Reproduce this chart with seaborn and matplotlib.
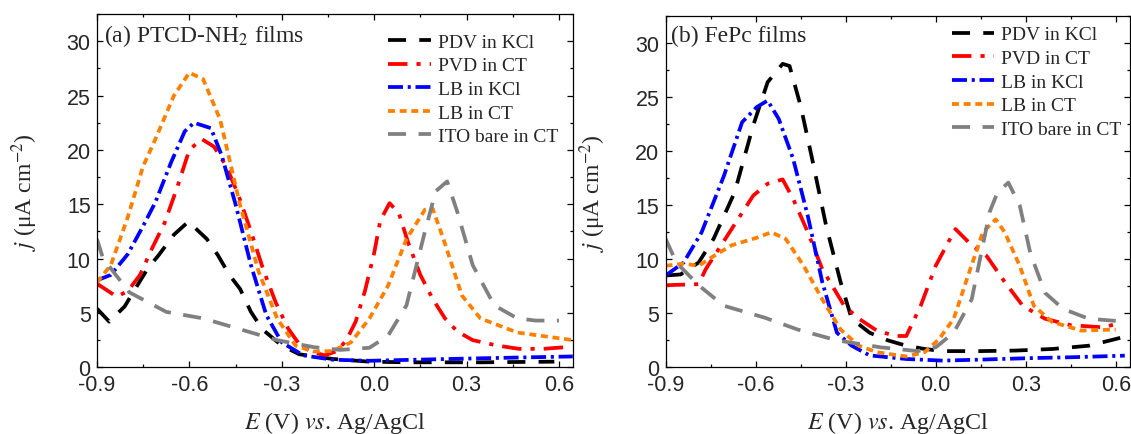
import matplotlib
matplotlib.use('Agg')
import matplotlib.pyplot as plt
import seaborn as sns
from matplotlib.ticker import MultipleLocator

sns.set_style('ticks')
plt.rcParams['font.family'] = ['Liberation Serif', 'DejaVu Serif']
plt.rcParams['mathtext.fontset'] = 'stix'
plt.rcParams['axes.unicode_minus'] = False
plt.rcParams['lines.scale_dashes'] = False

labels = ['PDV in KCl', 'PVD in CT', 'LB in KCl', 'LB in CT', 'ITO bare in CT']
colors = ['black', '#FF0000', '#0000FF', '#FF8000', '#808080']
dashes = [(13, 9.5), (14, 6.5, 3, 6.5), (10.8, 3.4, 2.2, 3.4), (5, 3.4), (13, 9)]

# ---- (a) PTCD-NH2 films ----
a_pdv_kcl_x = [-0.9, -0.86, -0.81, -0.776, -0.735, -0.70, -0.65, -0.603, -0.543, -0.507, -0.47,
               -0.435, -0.40, -0.363, -0.30, -0.243, -0.135, -0.015, 0.105, 0.345, 0.585]
a_pdv_kcl_y = [5.4, 4.2, 5.6, 7.2, 9.1, 10.3, 12.2, 13.4, 11.8, 10.3, 8.5,
               7.2, 5.1, 3.5, 2.0, 1.2, 0.77, 0.52, 0.46, 0.46, 0.52]

a_pvd_ct_x = [-0.9, -0.836, -0.80, -0.76, -0.72, -0.68, -0.64, -0.60, -0.56, -0.52, -0.48, -0.44,
              -0.40, -0.36, -0.32, -0.28, -0.24, -0.20, -0.16, -0.12, -0.09, -0.06, -0.03, 0.0,
              0.02, 0.05, 0.08, 0.11, 0.15, 0.19, 0.23, 0.27, 0.32, 0.40, 0.47, 0.55, 0.62]
a_pvd_ct_y = [7.7, 6.5, 7.0, 8.5, 11.0, 13.3, 16.5, 20.0, 21.0, 20.3, 18.5, 15.8,
              12.5, 9.0, 6.0, 3.6, 2.0, 1.4, 1.1, 1.5, 2.5, 4.2, 7.0, 10.5,
              13.5, 15.1, 14.2, 11.5, 8.5, 6.3, 4.5, 3.3, 2.5, 2.0, 1.7, 1.7, 1.85]

a_lb_kcl_x = [-0.9, -0.855, -0.80, -0.75, -0.71, -0.66, -0.615, -0.585, -0.53, -0.495, -0.45,
              -0.40, -0.35, -0.30, -0.23, -0.135, -0.015, 0.105, 0.345, 0.645]
a_lb_kcl_y = [8.0, 8.5, 10.4, 13.0, 15.2, 18.8, 21.7, 22.5, 22.0, 19.5, 15.0,
              9.4, 4.8, 2.3, 1.1, 0.7, 0.6, 0.68, 0.83, 1.0]

a_lb_ct_x = [-0.9, -0.855, -0.80, -0.75, -0.71, -0.65, -0.60, -0.555, -0.50, -0.435, -0.375, -0.315,
             -0.255, -0.195, -0.135, -0.075, -0.015, 0.045, 0.105, 0.165, 0.19, 0.225, 0.285,
             0.345, 0.465, 0.645]
a_lb_ct_y = [7.8, 9.4, 13.8, 18.5, 21.0, 25.0, 27.1, 26.5, 22.8, 14.9, 8.8, 4.5,
             2.0, 1.45, 1.5, 2.3, 4.5, 7.5, 11.8, 14.5, 14.6, 11.8, 6.6,
             4.5, 3.2, 2.5]

a_ito_x = [-0.9, -0.88, -0.855, -0.795, -0.675, -0.555, -0.435, -0.315, -0.195, -0.11, -0.015,
           0.045, 0.105, 0.165, 0.20, 0.237, 0.27, 0.32, 0.39, 0.465, 0.525, 0.60]
a_ito_y = [11.8, 10.0, 9.1, 6.9, 5.1, 4.5, 3.5, 2.5, 1.85, 1.6, 1.8,
           2.9, 5.7, 12.5, 16.2, 17.1, 14.3, 9.4, 5.7, 4.5, 4.3, 4.3]

# ---- (b) FePc films ----
b_pdv_kcl_x = [-0.9, -0.85, -0.79, -0.74, -0.67, -0.608, -0.56, -0.51, -0.487, -0.45, -0.414,
               -0.365, -0.317, -0.28, -0.22, -0.16, -0.098, -0.037, 0.023, 0.145, 0.266, 0.39,
               0.51, 0.64]
b_pdv_kcl_y = [8.5, 8.6, 9.7, 11.9, 16.2, 22.4, 26.4, 28.1, 27.9, 24.2, 19.6,
               13.1, 7.9, 4.5, 3.2, 2.5, 2.0, 1.7, 1.5, 1.5, 1.55, 1.7,
               2.0, 2.9]

b_pvd_ct_x = [-0.9, -0.79, -0.766, -0.68, -0.608, -0.56, -0.51, -0.475, -0.426, -0.378, -0.305,
              -0.256, -0.196, -0.134, -0.098, -0.05, 0.0, 0.048, 0.066, 0.12, 0.17, 0.23, 0.29,
              0.364, 0.45, 0.558, 0.6]
b_pvd_ct_y = [7.6, 7.7, 9.1, 12.8, 15.9, 17.0, 17.4, 15.6, 12.5, 9.1, 5.7,
              4.5, 3.4, 2.9, 2.9, 5.7, 9.4, 11.9, 12.8, 11.3, 10.3, 7.9, 5.7,
              4.5, 3.9, 3.7, 4.0]

b_lb_kcl_x = [-0.9, -0.84, -0.78, -0.706, -0.645, -0.596, -0.56, -0.523, -0.475, -0.426, -0.378,
              -0.329, -0.28, -0.22, -0.098, 0.023, 0.145, 0.327, 0.45, 0.63]
b_lb_kcl_y = [8.5, 9.7, 12.5, 17.7, 22.7, 24.1, 24.7, 23.0, 19.3, 14.0, 7.9,
              3.2, 2.0, 1.1, 0.77, 0.62, 0.71, 0.86, 0.93, 1.08]

b_lb_ct_x = [-0.9, -0.84, -0.79, -0.74, -0.68, -0.596, -0.548, -0.5, -0.44, -0.378, -0.317, -0.256,
             -0.196, -0.098, -0.037, 0.011, 0.06, 0.108, 0.157, 0.2, 0.23, 0.28, 0.327, 0.388,
             0.485, 0.6]
b_lb_ct_y = [9.4, 9.6, 9.4, 10.3, 11.3, 12.0, 12.5, 11.9, 9.4, 6.3, 3.5, 2.0,
             1.4, 1.0, 1.4, 2.6, 4.5, 8.5, 12.5, 13.7, 12.5, 9.4, 5.7, 4.2,
             3.4, 3.5]

b_ito_x = [-0.9, -0.864, -0.79, -0.706, -0.57, -0.46, -0.33, -0.183, -0.06, 0.0, 0.06, 0.12,
           0.18, 0.206, 0.242, 0.28, 0.315, 0.364, 0.425, 0.51, 0.6]
b_ito_y = [11.9, 9.7, 7.6, 5.7, 4.6, 3.5, 2.5, 1.85, 1.5, 1.85, 3.2, 6.3,
           14.4, 16.2, 17.1, 15.0, 10.6, 6.9, 5.4, 4.5, 4.3]

x_ticks = [-0.9, -0.6, -0.3, 0.0, 0.3, 0.6]
x_ticklabels = ['-0.9', '-0.6', '-0.3', '0.0', '0.3', '0.6']

panels = [
    {'title': '(a) PTCD-NH$_2$ films', 'rect': [0.0857, 0.1533, 0.4213, 0.8122],
     'title_xy': (0.014, 0.924), 'leg_xy': (0.611, 0.946), 'ylab_x': -0.119, 'xlab_y': -0.173,
     'series': [(a_pdv_kcl_x, a_pdv_kcl_y), (a_pvd_ct_x, a_pvd_ct_y), (a_lb_kcl_x, a_lb_kcl_y),
                (a_lb_ct_x, a_lb_ct_y), (a_ito_x, a_ito_y)]},
    {'title': '(b) FePc films', 'rect': [0.5885, 0.1533, 0.4105, 0.8069],
     'title_xy': (0.0116, 0.930), 'leg_xy': (0.616, 0.973), 'ylab_x': -0.125, 'xlab_y': -0.174,
     'series': [(b_pdv_kcl_x, b_pdv_kcl_y), (b_pvd_ct_x, b_pvd_ct_y), (b_lb_kcl_x, b_lb_kcl_y),
                (b_lb_ct_x, b_lb_ct_y), (b_ito_x, b_ito_y)]},
]

fig = plt.figure(figsize=(11.31, 4.35), dpi=100)

for p in panels:
    ax = fig.add_axes(p['rect'])
    for (xs, ys), lab, c, d in zip(p['series'], labels, colors, dashes):
        sns.lineplot(x=xs, y=ys, ax=ax, color=c, lw=2.7, linestyle=(0, d),
                     label=lab, sort=False, estimator=None)

    ax.set_xlim(-0.9, 0.647)
    ax.set_ylim(0, 32.5)
    ax.set_xticks(x_ticks)
    ax.set_xticklabels(x_ticklabels)
    ax.xaxis.set_minor_locator(MultipleLocator(0.15))
    ax.yaxis.set_major_locator(MultipleLocator(5))
    ax.yaxis.set_minor_locator(MultipleLocator(2.5))
    ax.tick_params(which='both', direction='in', top=True, right=True, width=0.9, color='black')
    ax.tick_params(which='major', length=4.5, labelsize=15.5)
    ax.tick_params(which='minor', length=2.3)
    ax.tick_params(axis='x', pad=5)
    ax.tick_params(axis='y', pad=4.5)
    for lbl in ax.get_xticklabels() + ax.get_yticklabels():
        lbl.set_fontfamily('Liberation Sans')
    for spine in ax.spines.values():
        spine.set_linewidth(0.9)
        spine.set_color('black')

    ax.set_xlabel('$E$ (V) $vs$. Ag/AgCl', fontsize=17.3)
    ax.set_ylabel('$j$ (μA cm$^{-2}$)', fontsize=17)
    ax.xaxis.label.set_va('baseline')
    ax.xaxis.set_label_coords(0.5, p['xlab_y'])
    ax.yaxis.set_label_coords(p['ylab_x'], 0.5)

    ax.text(p['title_xy'][0], p['title_xy'][1], p['title'], transform=ax.transAxes,
            fontsize=17, ha='left', va='baseline')

    ax.legend(loc='upper left', bbox_to_anchor=p['leg_xy'], frameon=False, fontsize=14,
              handlelength=2.2, handletextpad=0.36, labelspacing=0.31,
              borderpad=0, borderaxespad=0)

fig.savefig('out.png', dpi=100)
plt.close(fig)
